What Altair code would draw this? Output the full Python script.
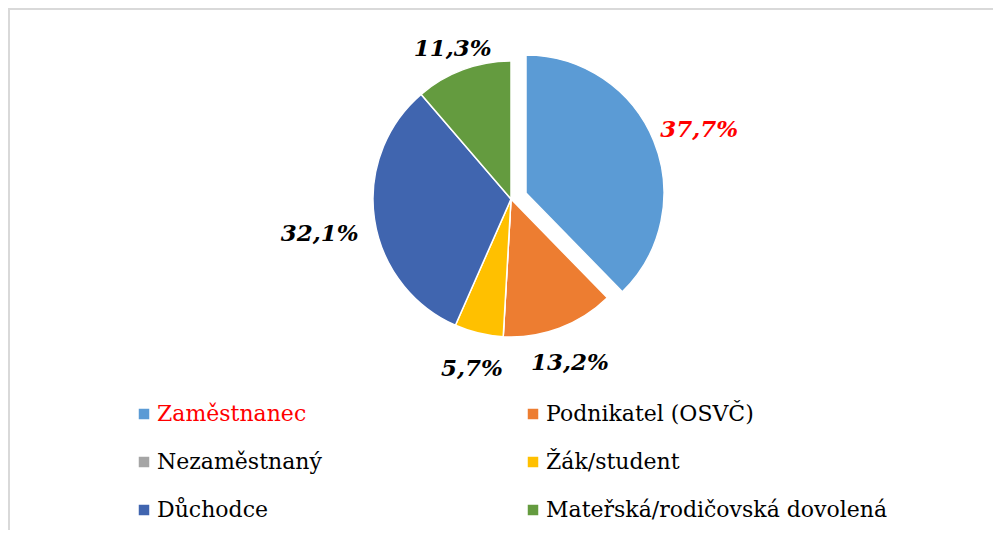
import altair as alt
import pandas as pd

categories = ["Zaměstnanec", "Podnikatel (OSVČ)", "Nezaměstnaný", "Žák/student", "Důchodce", "Mateřská/rodičovská dovolená"]
values = [37.7, 13.2, 0.0, 5.7, 32.1, 11.3]
colors = ["#5B9BD5", "#ED7D31", "#A5A5A5", "#FFC000", "#4065AF", "#649B3F"]

df = pd.DataFrame({"cat": categories, "value": values, "order": list(range(len(categories)))})

tscale = alt.Scale(domain=[0, 100], range=[0, 6.283185307179586])
cscale = alt.Scale(domain=categories, range=colors)

FONT = "DejaVu Serif"
CX, CY = 503, 191
EX, EY = 518, 185
R = 138

base = alt.Chart(df).transform_window(
    end="sum(value)", sort=[alt.SortField("order")], frame=[None, 0]
).transform_calculate(
    start="datum.end - datum.value"
).transform_calculate(
    mid="(datum.start + datum.end) / 2",
    label="replace(format(datum.value, '.1f'), '.', ',') + '%'"
).transform_calculate(
    ang="datum.mid / 100 * 2 * PI",
    hw="length(datum.label) * 7.6"
).transform_calculate(
    lr="155 + min(datum.hw / max(abs(sin(datum.ang)), 0.001), 12 / max(abs(cos(datum.ang)), 0.001))"
)

legend = alt.Legend(
    orient="none", legendX=125, legendY=395, columns=2, direction="horizontal", title=None,
    padding=0, symbolType="square", symbolSize=110, symbolStrokeWidth=0,
    labelFont=FONT, labelFontSize=22, labelOffset=2, labelLimit=0,
    rowPadding=26, columnPadding=200,
    labelColor={"expr": "datum.value == 'Zaměstnanec' ? '#FF0000' : '#000000'"},
)

rest_arc = base.transform_filter("datum.cat != 'Zaměstnanec'").mark_arc(
    outerRadius=R, stroke="white", strokeWidth=1.5
).encode(
    theta=alt.Theta("start:Q", scale=tscale, stack=None),
    theta2="end:Q",
    color=alt.Color("cat:N", scale=cscale, legend=legend),
    x=alt.value(CX), y=alt.value(CY),
)

exp_arc = base.transform_filter("datum.cat == 'Zaměstnanec'").mark_arc(
    outerRadius=R, stroke="white", strokeWidth=1.5
).encode(
    theta=alt.Theta("start:Q", scale=tscale, stack=None),
    theta2="end:Q",
    color=alt.Color("cat:N", scale=cscale, legend=legend),
    x=alt.value(EX), y=alt.value(EY),
)

rest_lbl = base.transform_filter("datum.cat != 'Zaměstnanec' && datum.value > 0").mark_text(
    font=FONT, fontWeight="bold", fontStyle="italic", fontSize=23, color="black",
    baseline="middle", dy=7
).encode(
    theta=alt.Theta("mid:Q", scale=tscale, stack=None),
    radius=alt.Radius("lr:Q", scale=None),
    text="label:N",
    x=alt.value(CX), y=alt.value(CY),
)

exp_lbl = base.transform_filter("datum.cat == 'Zaměstnanec'").mark_text(
    font=FONT, fontWeight="bold", fontStyle="italic", fontSize=23, color="#FF0000",
    baseline="middle", dy=7
).encode(
    theta=alt.Theta("mid:Q", scale=tscale, stack=None),
    radius=alt.Radius("lr:Q", scale=None),
    text="label:N",
    x=alt.value(EX), y=alt.value(EY),
)

top_border = alt.Chart(df).mark_rule(color="#D9D9D9", strokeWidth=2).encode(
    x=alt.value(0), x2=alt.value(985), y=alt.value(1)
)
left_border = alt.Chart(df).mark_rule(color="#D9D9D9", strokeWidth=2).encode(
    x=alt.value(1), y=alt.value(0), y2=alt.value(522)
)

chart = alt.layer(top_border, left_border, rest_arc, exp_arc, rest_lbl, exp_lbl).properties(
    width=985, height=522, autosize=alt.AutoSizeParams(type="none"),
    padding={"left": 0, "top": 0, "right": 0, "bottom": 0},
).configure_view(stroke=None).configure(background="white")

chart.save("out.html", embed_options={"renderer": "svg", "actions": False})
